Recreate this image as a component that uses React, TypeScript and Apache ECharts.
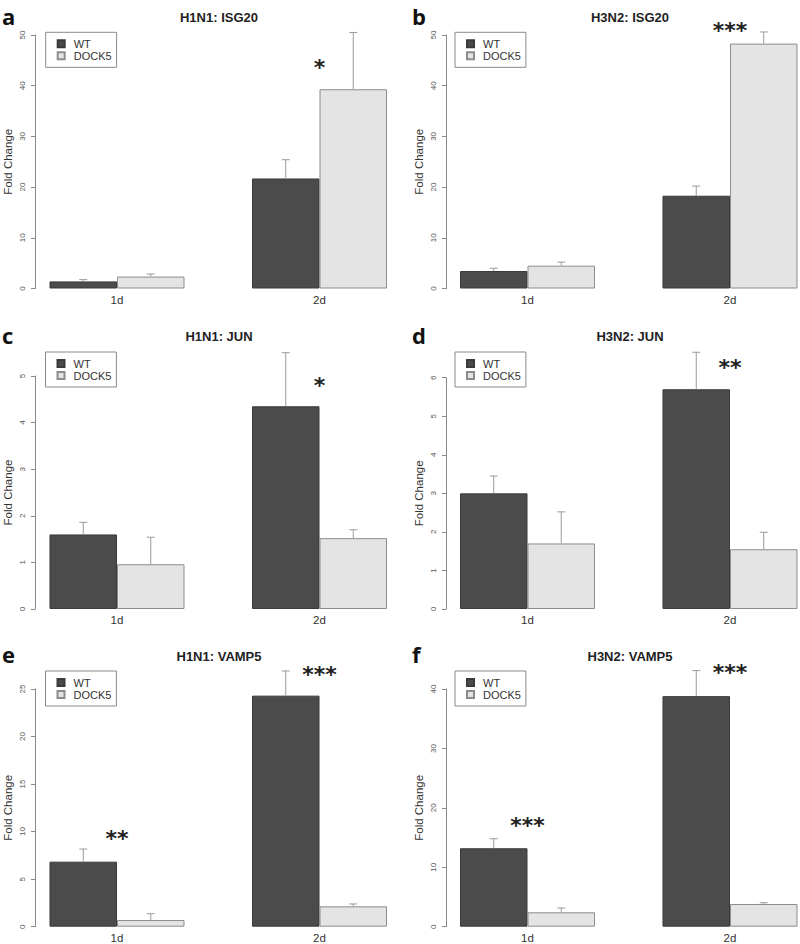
import React, { useEffect, useRef } from "react";
import * as echarts from "echarts";

// ---------- data ----------
const categories = ["1d", "2d"];
const seriesNames = ["WT", "DOCK5"];
const panelLetters = ["a", "b", "c", "d", "e", "f"];
const panelTitles = [
  "H1N1: ISG20",
  "H3N2: ISG20",
  "H1N1: JUN",
  "H3N2: JUN",
  "H1N1: VAMP5",
  "H3N2: VAMP5",
];

// panel a: H1N1 ISG20
const wtA = [1.4, 21.7];
const wtErrA = [1.75, 25.4];
const dockA = [2.35, 39.3];
const dockErrA = [2.85, 50.5];
const starsA = [{ cat: 1, y: 44.5, text: "*" }];

// panel b: H3N2 ISG20
const wtB = [3.45, 18.3];
const wtErrB = [4.0, 20.2];
const dockB = [4.5, 48.3];
const dockErrB = [5.2, 50.6];
const starsB = [{ cat: 1, y: 51.9, text: "***" }];

// panel c: H1N1 JUN
const wtC = [1.6, 4.35];
const wtErrC = [1.86, 5.5];
const dockC = [0.96, 1.52];
const dockErrC = [1.54, 1.7];
const starsC = [{ cat: 1, y: 4.91, text: "*" }];

// panel d: H3N2 JUN
const wtD = [3.0, 5.7];
const wtErrD = [3.45, 6.66];
const dockD = [1.7, 1.55];
const dockErrD = [2.52, 1.99];
const starsD = [{ cat: 1, y: 6.4, text: "**" }];

// panel e: H1N1 VAMP5
const wtE = [6.84, 24.3];
const wtErrE = [8.17, 26.9];
const dockE = [0.7, 2.14];
const dockErrE = [1.37, 2.39];
const starsE = [
  { cat: 0, y: 9.75, text: "**" },
  { cat: 1, y: 27.1, text: "***" },
];

// panel f: H3N2 VAMP5
const wtF = [13.2, 38.8];
const wtErrF = [14.8, 43.1];
const dockF = [2.42, 3.82];
const dockErrF = [3.15, 4.04];
const starsF = [
  { cat: 0, y: 17.8, text: "***" },
  { cat: 1, y: 43.6, text: "***" },
];

const yMaxes = [50, 50, 5, 6, 25, 40];
const yTickSteps = [10, 10, 1, 1, 5, 10];

// ---------- layout / style ----------
const FONT = "'Liberation Sans', Arial, Helvetica, sans-serif";
const GRID_W = 202.5;
const colGridLeft = [117, 527.5];
const colAxisX = [35, 446];
const rowGeom = [
  { top: 35, height: 253.5 },
  { top: 35, height: 253.5 },
  { top: 376, height: 233 },
  { top: 377.7, height: 231.3 },
  { top: 689, height: 237.7 },
  { top: 689, height: 237.7 },
];
const legendTops = [32.3, 32.3, 352, 352, 671, 671];
const legendLefts = [45.7, 455, 45.5, 455, 45.5, 455];
const titleYs = [17.5, 17.5, 336.7, 336.7, 656.7, 656.7];
const titleXs = [219, 630];
const letterYs = [15.5, 15.5, 335, 335, 654, 654];
const letterXs = [2, 412];
const CAT_GAP = 1 / 3;

const WT_COLOR = "#4b4b4b";
const DOCK_COLOR = "#e4e4e4";

function buildOption() {
  const panels = [
    { wt: wtA, wtErr: wtErrA, dock: dockA, dockErr: dockErrA, stars: starsA },
    { wt: wtB, wtErr: wtErrB, dock: dockB, dockErr: dockErrB, stars: starsB },
    { wt: wtC, wtErr: wtErrC, dock: dockC, dockErr: dockErrC, stars: starsC },
    { wt: wtD, wtErr: wtErrD, dock: dockD, dockErr: dockErrD, stars: starsD },
    { wt: wtE, wtErr: wtErrE, dock: dockE, dockErr: dockErrE, stars: starsE },
    { wt: wtF, wtErr: wtErrF, dock: dockF, dockErr: dockErrF, stars: starsF },
  ];

  const grid: any[] = [];
  const xAxis: any[] = [];
  const yAxis: any[] = [];
  const series: any[] = [];
  const legend: any[] = [];
  const graphic: any[] = [];

  panels.forEach((p, i) => {
    const col = i % 2;
    grid.push({
      left: colGridLeft[col],
      width: GRID_W,
      top: rowGeom[i].top,
      height: rowGeom[i].height,
    });
    xAxis.push({
      type: "category",
      gridIndex: i,
      data: categories,
      boundaryGap: false,
      axisLine: { show: false },
      axisTick: { show: false },
      axisLabel: {
        interval: 0,
        fontSize: 11.5,
        color: "#333",
        margin: 5,
        fontFamily: FONT,
      },
      splitLine: { show: false },
    });
    yAxis.push({
      type: "value",
      gridIndex: i,
      min: 0,
      max: yMaxes[i],
      interval: yTickSteps[i],
      offset: colGridLeft[col] - colAxisX[col],
      name: "Fold Change",
      nameLocation: "middle",
      nameGap: 21,
      nameTextStyle: { fontSize: 11.5, color: "#333", fontFamily: FONT },
      axisLine: { show: true, lineStyle: { color: "#8a8a8a", width: 1 } },
      axisTick: { show: true, length: 4, lineStyle: { color: "#8a8a8a" } },
      axisLabel: {
        rotate: 90,
        fontSize: 8,
        color: "#555",
        margin: 9,
        fontFamily: FONT,
      },
      splitLine: { show: false },
    });

    series.push({
      type: "bar",
      name: seriesNames[0],
      xAxisIndex: i,
      yAxisIndex: i,
      data: p.wt,
      barGap: "0%",
      barCategoryGap: "33.333%",
      clip: false,
      silent: true,
      itemStyle: { color: WT_COLOR, borderColor: "#3a3a3a", borderWidth: 1 },
    });
    series.push({
      type: "bar",
      name: seriesNames[1],
      xAxisIndex: i,
      yAxisIndex: i,
      data: p.dock,
      barGap: "0%",
      barCategoryGap: "33.333%",
      clip: false,
      silent: true,
      itemStyle: { color: DOCK_COLOR, borderColor: "#8c8c8c", borderWidth: 1 },
    });

    const errData: number[][] = [];
    p.wt.forEach((v, k) => errData.push([k, v, p.wtErr[k], 0]));
    p.dock.forEach((v, k) => errData.push([k, v, p.dockErr[k], 1]));
    series.push({
      type: "custom",
      name: "err",
      xAxisIndex: i,
      yAxisIndex: i,
      clip: false,
      silent: true,
      z: 5,
      data: errData,
      renderItem: (params: any, api: any) => {
        const cat = api.value(0);
        const v = api.value(1);
        const e = api.value(2);
        const w = api.value(3);
        const band = api.size([1, 0])[0];
        const barW = (band * (1 - CAT_GAP)) / 2;
        const base = api.coord([cat, v]);
        const top = api.coord([cat, e]);
        const x = base[0] + (w === 0 ? -barW / 2 : barW / 2);
        const style = { stroke: "#9a9a9a", lineWidth: 1 };
        return {
          type: "group",
          children: [
            {
              type: "line",
              shape: { x1: x, y1: base[1], x2: x, y2: top[1] },
              style,
            },
            {
              type: "line",
              shape: { x1: x - 4, y1: top[1], x2: x + 4, y2: top[1] },
              style,
            },
          ],
        };
      },
    });

    const stars = p.stars;
    series.push({
      type: "custom",
      name: "sig",
      xAxisIndex: i,
      yAxisIndex: i,
      clip: false,
      silent: true,
      z: 6,
      data: stars.map((s) => [s.cat, s.y]),
      renderItem: (params: any, api: any) => {
        const s = stars[params.dataIndex];
        const pt = api.coord([api.value(0), api.value(1)]);
        return {
          type: "text",
          x: pt[0],
          y: pt[1] + 5,
          style: {
            text: s.text,
            fill: "#222",
            font: "bold 22px 'DejaVu Sans', sans-serif",
            textAlign: "center",
            textVerticalAlign: "middle",
          },
        };
      },
    });

    legend.push({
      data: seriesNames,
      orient: "vertical",
      left: legendLefts[i],
      top: legendTops[i],
      icon: "rect",
      itemWidth: 7,
      itemHeight: 7,
      itemGap: 1,
      padding: [6, 5, 6, 11],
      borderColor: "#8a8a8a",
      borderWidth: 1,
      borderRadius: 0,
      selectedMode: false,
      textStyle: {
        fontSize: 11,
        color: "#333",
        fontFamily: FONT,
        padding: [0, 0, 0, 4],
      },
    });

    graphic.push({
      type: "text",
      x: titleXs[col],
      y: titleYs[i],
      style: {
        text: panelTitles[i],
        fill: "#222",
        font: `bold 13px ${FONT}`,
        textAlign: "center",
        textVerticalAlign: "middle",
      },
    });
    graphic.push({
      type: "text",
      x: letterXs[col],
      y: letterYs[i],
      style: {
        text: panelLetters[i],
        fill: "#111",
        font: "bold 22px 'Open Sans', sans-serif",
        lineHeight: 22,
        textAlign: "left",
        textVerticalAlign: "middle",
      },
    });
  });

  return {
    animation: false,
    backgroundColor: "#ffffff",
    grid,
    xAxis,
    yAxis,
    series,
    legend,
    graphic,
  };
}

export default function App() {
  const ref = useRef<HTMLDivElement>(null);
  useEffect(() => {
    if (!ref.current) return;
    const chart = echarts.init(ref.current, null, { renderer: "svg" });
    chart.setOption(buildOption() as any);
    return () => chart.dispose();
  }, []);
  return (
    <div
      ref={ref}
      style={{ position: "absolute", left: 0, top: 0, width: 800, height: 944 }}
    />
  );
}
